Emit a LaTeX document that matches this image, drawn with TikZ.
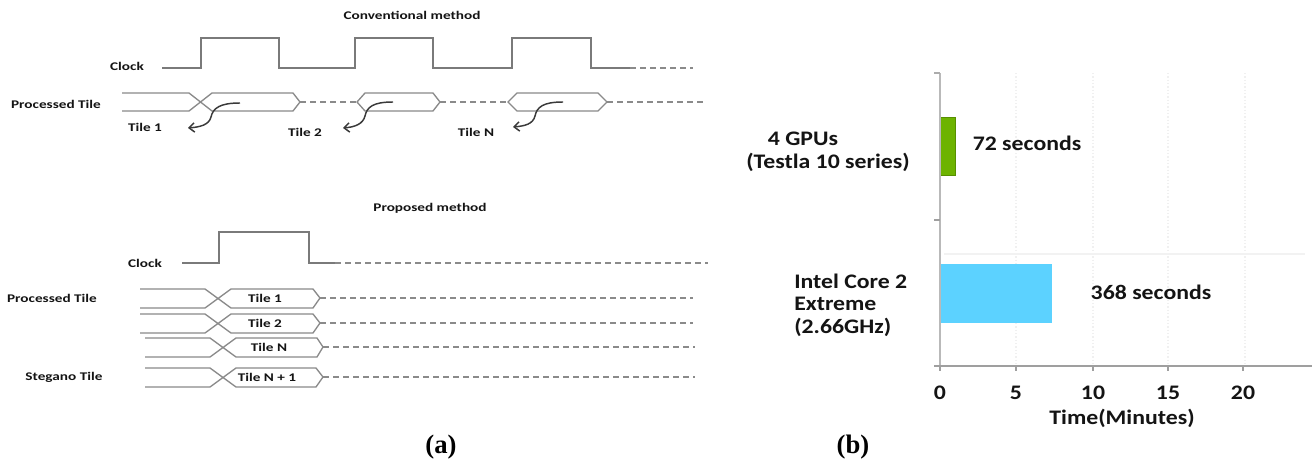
\documentclass[tikz,border=0pt]{standalone}
\usepackage{fontspec}
\usepackage{graphicx}
\setmainfont{Carlito}
\newfontfamily\capfont{Liberation Serif}
\usetikzlibrary{arrows.meta}
\definecolor{wavegray}{HTML}{7A7A7A}
\definecolor{hexgray}{HTML}{8A8A8A}
\definecolor{arrgray}{HTML}{3A3A3A}
\definecolor{txt}{HTML}{141414}
\definecolor{gpugreen}{HTML}{6DB300}
\definecolor{cpublue}{HTML}{5CD2FF}
\newcommand{\sxL}[1]{\scalebox{1.3}[1]{#1}}
\newcommand{\sxR}[1]{\scalebox{1.15}[1]{#1}}
\begin{document}
\begin{tikzpicture}[x=0.75pt,y=-0.75pt,
  lblL/.style={font=\bfseries\fontsize{8.8}{10}\selectfont,text=txt,inner sep=0pt},
  lblR/.style={font=\bfseries\fontsize{15.5}{17}\selectfont,text=txt,inner sep=0pt},
  capt/.style={font=\capfont\bfseries\fontsize{20}{22}\selectfont,text=black,inner sep=0pt},
  wave/.style={draw=wavegray,line width=1.2pt},
  hexline/.style={draw=hexgray,line width=1pt},
  dashline/.style={draw=hexgray,line width=1pt,dash pattern=on 4.5pt off 3pt},
  curv/.style={draw=arrgray,line width=1.1pt,-{Straight Barb[length=4pt,width=7pt]}},
  grid/.style={draw=gray!12,line width=0.8pt,dash pattern=on 1pt off 1.5pt}]
\useasboundingbox[fill=white] (0,0) rectangle (1312,468);

% ---------------- (a) conventional ----------------
\node[lblL] (convtitle) at (412,15) {\sxL{Conventional method}};
\node[lblL] (clk1) at (127,66) {\sxL{Clock}};
\draw[wave] (162,68) -- (201,68) -- (201,38) -- (279,38) -- (279,68) -- (355,68) -- (355,38) -- (433,38) -- (433,68) -- (512,68) -- (512,38) -- (591,38) -- (591,68) -- (630,68);
\draw[dashline] (630,68) -- (693,68);

\node[lblL] (pt1) at (56,104) {\sxL{Processed Tile}};
\draw[hexline] (122,93) -- (189,93) -- (212,111) -- (293,111) -- (300,102) -- (293,93) -- (212,93) -- (189,111) -- (122,111);
\draw[dashline] (300,102) -- (357,102);
\draw[hexline] (357,102) -- (365,93) -- (433,93) -- (440,102) -- (433,111) -- (365,111) -- cycle;
\draw[dashline] (440,102) -- (508,102);
\draw[hexline] (508,102) -- (517,93) -- (598,93) -- (607,102) -- (598,111) -- (517,111) -- cycle;
\draw[dashline] (607,102) -- (703,102);

\node[lblL] (t1) at (145,127) {\sxL{Tile 1}};
\node[lblL] (t2) at (305,132) {\sxL{Tile 2}};
\node[lblL] (tN) at (476,132) {\sxL{Tile N}};

\coordinate (a1s) at (240,103); \coordinate (a1m) at (211,117); \coordinate (a1e) at (188,128);
\coordinate (a2s) at (393,102); \coordinate (a2m) at (365,116); \coordinate (a2e) at (343,128);
\coordinate (a3s) at (563,102); \coordinate (a3m) at (535,116); \coordinate (a3e) at (513,127);
\foreach \n in {1,2,3}{
  \draw[curv] (a\n s) .. controls +(-20,0) and +(2,-9) .. (a\n m) .. controls +(-2,8) and +(12,-1) .. (a\n e);
}

% ---------------- (a) proposed ----------------
\node[lblL] (proptitle) at (430,208) {\sxL{Proposed method}};
\node[lblL] (clk2) at (145,263) {\sxL{Clock}};
\draw[wave] (182,263) -- (219,263) -- (219,232) -- (309,232) -- (309,263) -- (335,263);
\draw[dashline] (335,263) -- (708,263);

\node[lblL] (pt2) at (52,298) {\sxL{Processed Tile}};
\node[lblL] (st) at (64,377) {\sxL{Stegano Tile}};

% row 1
\draw[hexline] (140,289) -- (205,289) -- (231,308) -- (313,308) -- (320,298) -- (313,289) -- (231,289) -- (205,308) -- (140,308);
\draw[dashline] (320,298) -- (693,298);
\node[lblL] (r1) at (265,298) {\sxL{Tile 1}};
% row 2
\draw[hexline] (140,314) -- (205,314) -- (231,333) -- (313,333) -- (320,323) -- (313,314) -- (231,314) -- (205,333) -- (140,333);
\draw[dashline] (320,323) -- (693,323);
\node[lblL] (r2) at (265,323) {\sxL{Tile 2}};
% row 3
\draw[hexline] (145,338) -- (210,338) -- (236,357) -- (317,357) -- (323,347) -- (317,338) -- (236,338) -- (210,357) -- (145,357);
\draw[dashline] (323,347) -- (695,347);
\node[lblL] (r3) at (269,347) {\sxL{Tile N}};
% row 4
\draw[hexline] (145,368) -- (210,368) -- (236,387) -- (316,387) -- (323,377) -- (316,368) -- (236,368) -- (210,387) -- (145,387);
\draw[dashline] (323,377) -- (695,377);
\node[lblL] (r4) at (267,377) {\sxL{Tile N + 1}};

% ---------------- (b) chart ----------------
\foreach \gx in {1016,1093,1168,1245}{
  \draw[grid] (\gx,73) -- (\gx,364);
}
\draw[draw=gray!10,line width=0.8pt] (944,254) -- (1305,254);
\fill[gpugreen] (940,117) rectangle (955,175);
\draw[gpugreen!80!black,line width=0.6pt] (940,117) rectangle (955,175);
\fill[cpublue] (940,264) rectangle (1052,323);
\draw[draw=gray!55,line width=2.2pt] (940,73) -- (940,366);
\draw[draw=gray!65,line width=1pt] (934,73) -- (940,73);
\draw[draw=gray!75,line width=1pt] (934,220) -- (940,220);
\draw[draw=gray!75,line width=2pt] (934,366) -- (1312,366);
\foreach \gx in {940,1016,1093,1168,1243}{
  \draw[draw=gray!75,line width=1pt] (\gx,366) -- (\gx,371);
}

\node[lblR] (gpu) at (803,139) {\sxR{4 GPUs}};
\node[lblR] (tesla) at (828,162) {\sxR{(Testla 10 series)}};
\node[lblR,anchor=west] (intel) at (794,281) {\sxR{Intel Core 2}};
\node[lblR,anchor=west] (extreme) at (794,304) {\sxR{Extreme}};
\node[lblR,anchor=west] (ghz) at (794,327) {\sxR{(2.66GHz)}};
\node[lblR] (sec72) at (1027,143) {\sxR{72 seconds}};
\node[lblR] (sec368) at (1151,292) {\sxR{368 seconds}};
\node[lblR] (x0) at (940,393) {\sxR{0}};
\node[lblR] (x5) at (1016,393) {\sxR{5}};
\node[lblR] (x10) at (1093,393) {\sxR{10}};
\node[lblR] (x15) at (1168,393) {\sxR{15}};
\node[lblR] (x20) at (1243,393) {\sxR{20}};
\node[lblR] (xlab) at (1122,418) {\sxR{Time(Minutes)}};

\node[capt] (capa) at (441,447) {(a)};
\node[capt] (capb) at (853,447) {(b)};
\end{tikzpicture}
\end{document}
